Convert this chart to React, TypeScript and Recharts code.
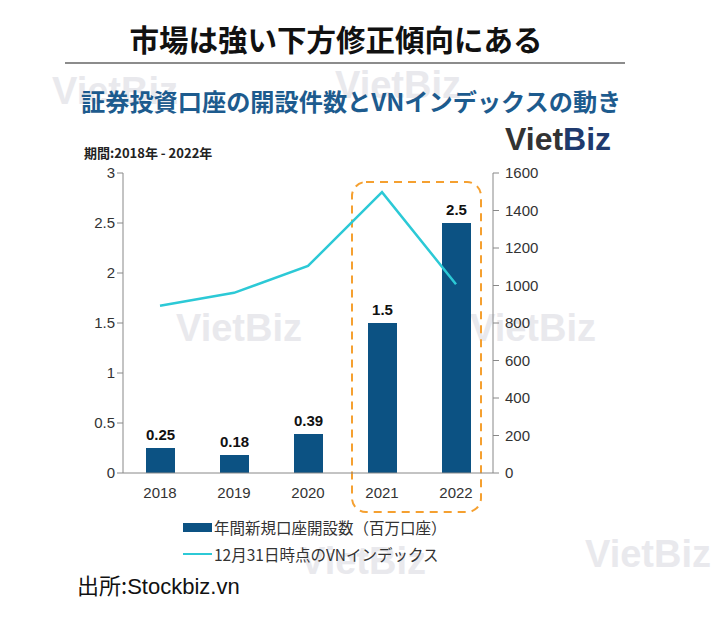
import React from 'react';
import {
  Bar,
  ComposedChart,
  LabelList,
  Line,
  ReferenceArea,
  XAxis,
  YAxis,
} from 'recharts';

const years = ['2018', '2019', '2020', '2021', '2022'];
const newAccounts = [0.25, 0.18, 0.39, 1.5, 2.5];
const vnIndex = [892, 961, 1104, 1498, 1007];
const leftTicks = [0, 0.5, 1, 1.5, 2, 2.5, 3];
const rightTicks = [0, 200, 400, 600, 800, 1000, 1200, 1400, 1600];

const chartData = years.map((year, i) => ({
  year,
  accounts: newAccounts[i],
  index: vnIndex[i],
}));

const jp = '"Noto Sans CJK JP", "Liberation Sans", sans-serif';
const latin = '"Liberation Sans", Arial, sans-serif';

const watermarks = [
  { x: 52, y: 70 },
  { x: 335, y: 64 },
  { x: 176, y: 307 },
  { x: 470, y: 307 },
  { x: 585, y: 533 },
  { x: 300, y: 540 },
];

function HighlightBox(props: any) {
  const { x, y, width, height } = props;
  return (
    <rect
      x={x + 7}
      y={y}
      width={width - 19}
      height={height}
      rx={14}
      fill="none"
      stroke="#f5a030"
      strokeWidth={2}
      strokeDasharray="8 6"
    />
  );
}

export default function App() {
  return (
    <div
      style={{
        position: 'absolute',
        left: 0,
        top: 0,
        width: 720,
        height: 621,
        background: '#fff',
        fontFamily: jp,
        overflow: 'hidden',
      }}
    >
      {watermarks.map((w, i) => (
        <div
          key={i}
          style={{
            position: 'absolute',
            left: w.x,
            top: w.y,
            fontFamily: latin,
            fontWeight: 700,
            fontSize: 38,
            color: '#e9e9ed',
          }}
        >
          VietBiz
        </div>
      ))}

      <div
        style={{
          position: 'absolute',
          left: 0,
          width: 672,
          top: 18,
          textAlign: 'center',
          fontSize: 29.5,
          fontWeight: 700,
          color: '#111',
          lineHeight: '40px',
        }}
      >
        市場は強い下方修正傾向にある
      </div>
      <div
        style={{
          position: 'absolute',
          left: 65,
          top: 62,
          width: 560,
          height: 2,
          background: '#8c8c8c',
        }}
      />
      <div
        style={{
          position: 'absolute',
          left: 81,
          top: 84,
          fontSize: 24.2,
          fontWeight: 700,
          color: '#1d5b8e',
          lineHeight: '34px',
          whiteSpace: 'nowrap',
        }}
      >
        証券投資口座の開設件数とVNインデックスの動き
      </div>
      <div
        style={{
          position: 'absolute',
          left: 505,
          top: 121,
          fontFamily: latin,
          fontSize: 32,
          fontWeight: 700,
          lineHeight: '36px',
        }}
      >
        <span style={{ color: '#333' }}>Viet</span>
        <span style={{ color: '#1f3a6e' }}>Biz</span>
      </div>
      <div
        style={{
          position: 'absolute',
          left: 84,
          top: 143,
          fontSize: 13,
          fontWeight: 700,
          color: '#222',
          lineHeight: '20px',
        }}
      >
        期間:2018年 - 2022年
      </div>

      <div style={{ position: 'absolute', left: 0, top: 0 }}>
        <ComposedChart
          width={720}
          height={621}
          data={chartData}
          margin={{ top: 173, right: 167, bottom: 118, left: 63 }}
        >
          <XAxis
            dataKey="year"
            tickLine={false}
            axisLine={{ stroke: '#888' }}
            tick={{ fontFamily: latin, fontSize: 15, fill: '#333' }}
            tickMargin={8}
            height={30}
          />
          <YAxis
            yAxisId="left"
            width={60}
            domain={[0, 3]}
            ticks={leftTicks}
            axisLine={{ stroke: '#888' }}
            tickLine={{ stroke: '#888' }}
            tickSize={6}
            tick={{ fontFamily: latin, fontSize: 15, fill: '#333' }}
            interval={0}
          />
          <YAxis
            yAxisId="right"
            orientation="right"
            width={60}
            domain={[0, 1600]}
            ticks={rightTicks}
            axisLine={{ stroke: '#888' }}
            tickLine={{ stroke: '#888' }}
            tickSize={6}
            tickMargin={6}
            tick={{ fontFamily: latin, fontSize: 15, fill: '#333', textAnchor: 'start' }}
            interval={0}
          />
          <Bar
            yAxisId="left"
            dataKey="accounts"
            fill="#0c5283"
            barSize={29}
            isAnimationActive={false}
          >
            <LabelList
              dataKey="accounts"
              position="top"
              offset={8}
              style={{ fontFamily: latin, fontSize: 15, fontWeight: 700, fill: '#111' }}
            />
          </Bar>
          <Line
            yAxisId="right"
            dataKey="index"
            type="linear"
            stroke="#2cc9d6"
            strokeWidth={2.5}
            dot={false}
            activeDot={false}
            isAnimationActive={false}
          />
          <ReferenceArea
            yAxisId="left"
            x1="2021"
            x2="2022"
            y1={-0.39}
            y2={2.91}
            ifOverflow="visible"
            shape={HighlightBox}
          />
        </ComposedChart>
      </div>

      <div
        style={{
          position: 'absolute',
          left: 183,
          top: 515,
          fontSize: 15.5,
          color: '#333',
          lineHeight: '24px',
        }}
      >
        <div style={{ display: 'flex', alignItems: 'center' }}>
          <span
            style={{
              display: 'inline-block',
              width: 29,
              height: 9,
              background: '#0c5283',
              marginRight: 2,
            }}
          />
          年間新規口座開設数（百万口座）
        </div>
        <div style={{ display: 'flex', alignItems: 'center', marginTop: 3 }}>
          <span
            style={{
              display: 'inline-block',
              width: 29,
              height: 2,
              background: '#2cc9d6',
              marginRight: 2,
            }}
          />
          12月31日時点のVNインデックス
        </div>
      </div>

      <div
        style={{
          position: 'absolute',
          left: 77,
          top: 569,
          fontSize: 22,
          color: '#111',
          lineHeight: '30px',
        }}
      >
        出所:<span style={{ fontFamily: latin }}>Stockbiz.vn</span>
      </div>
    </div>
  );
}
